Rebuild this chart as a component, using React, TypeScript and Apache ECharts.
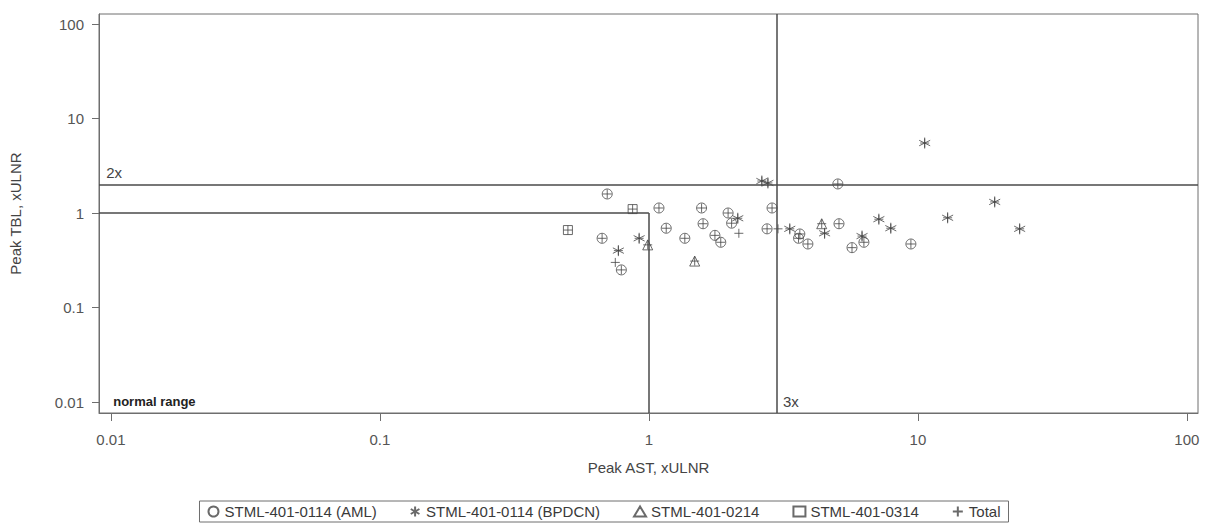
import React, { useEffect, useRef } from "react";
import * as echarts from "echarts";

// ---- data ----
const xTickValues = [0.01, 0.1, 1, 10, 100];
const xTickLabels = ["0.01", "0.1", "1", "10", "100"];
const yTickValues = [0.01, 0.1, 1, 10, 100];
const yTickLabels = ["0.01", "0.1", "1", "10", "100"];

const seriesNames = [
  "STML-401-0114 (AML)",
  "STML-401-0114 (BPDCN)",
  "STML-401-0214",
  "STML-401-0314",
  "Total",
];

// [Peak AST xULNR, Peak TBL xULNR]
const amlPoints = [
  [0.7, 1.59], [1.09, 1.13], [1.16, 0.69], [0.67, 0.54], [0.79, 0.25],
  [1.36, 0.54], [1.57, 1.13], [1.59, 0.77], [1.97, 1.0], [2.03, 0.78],
  [1.76, 0.58], [1.85, 0.49], [2.87, 1.13], [2.75, 0.68], [3.64, 0.6],
  [3.6, 0.54], [3.9, 0.47], [5.04, 2.03], [5.09, 0.77], [6.3, 0.49],
  [5.69, 0.43], [9.42, 0.47],
];
const bpdcnPoints = [
  [0.92, 0.54], [0.77, 0.4], [2.14, 0.88], [2.63, 2.18], [2.77, 2.08],
  [3.34, 0.68], [4.5, 0.61], [7.16, 0.86], [7.93, 0.69], [6.2, 0.57],
  [12.9, 0.89], [19.3, 1.31], [23.9, 0.68], [10.6, 5.5],
];
const p0214Points = [[0.99, 0.46], [1.48, 0.31], [4.39, 0.77]];
const p0314Points = [[0.5, 0.66], [0.87, 1.1]];
const totalOnlyPoints = [[0.75, 0.3], [2.16, 0.61], [3.02, 0.68]];

const refTBL = 2; // 2x
const refAST = 3; // 3x
const normalLimit = 1;

const xRange = [0.00903, 110];
const yRange = [0.00765, 127.6];

// ---- styles ----
const FONT = "'Liberation Sans', Arial, sans-serif";
const MARK = "#454545";
const FRAME = "#6e6e6e";
const REF = "#4a4a4a";

const starSymbol = "path://M5,0L5,10M0.67,2.5L9.33,7.5M0.67,7.5L9.33,2.5";
const plusSymbol = "path://M0,5L10,5M5,0L5,10";

const fmt = (ticks: number[], labels: string[]) => (v: number) => {
  const i = ticks.findIndex((t) => Math.abs(Math.log10(t) - Math.log10(v)) < 1e-6);
  return i >= 0 ? labels[i] : "";
};

const hollow = { color: "rgba(0,0,0,0)", borderColor: MARK, borderWidth: 1 };

export default function App() {
  const ref = useRef<HTMLDivElement>(null);
  useEffect(() => {
    if (!ref.current) return;
    const chart = echarts.init(ref.current, null, { renderer: "svg" });
    const totalPoints = [
      ...amlPoints,
      ...bpdcnPoints,
      ...p0214Points,
      ...p0314Points,
      ...totalOnlyPoints,
    ];
    const option: any = {
      animation: false,
      backgroundColor: "#ffffff",
      textStyle: { fontFamily: FONT },
      grid: {
        left: 98,
        right: 10,
        top: 14,
        bottom: 112,
        show: true,
        borderColor: FRAME,
        borderWidth: 1,
        containLabel: false,
      },
      legend: {
        data: seriesNames,
        left: "center",
        top: 501,
        borderColor: FRAME,
        borderWidth: 1,
        padding: [3, 8],
        itemGap: 33,
        itemWidth: 12,
        itemHeight: 10,
        textStyle: { fontFamily: FONT, fontSize: 15, color: "#3a3a3a" },
      },
      xAxis: {
        type: "log",
        logBase: 10,
        min: xRange[0],
        max: xRange[1],
        name: "Peak AST, xULNR",
        nameLocation: "middle",
        nameGap: 47,
        nameTextStyle: { fontFamily: FONT, fontSize: 15, color: "#444" },
        axisLine: { show: true, lineStyle: { color: FRAME, width: 1 } },
        axisTick: {
          show: true,
          length: 8,
          customValues: xTickValues,
          lineStyle: { color: FRAME },
        },
        axisLabel: {
          customValues: xTickValues,
          formatter: fmt(xTickValues, xTickLabels),
          margin: 19,
          fontFamily: FONT,
          fontSize: 15,
          color: "#555",
        },
        splitLine: { show: false },
        minorTick: { show: false },
      },
      yAxis: {
        type: "log",
        logBase: 10,
        min: yRange[0],
        max: yRange[1],
        name: "Peak TBL, xULNR",
        nameLocation: "middle",
        nameGap: 76,
        nameTextStyle: { fontFamily: FONT, fontSize: 15, color: "#444" },
        axisLine: { show: true, lineStyle: { color: FRAME, width: 1 } },
        axisTick: {
          show: true,
          length: 7,
          customValues: yTickValues,
          lineStyle: { color: FRAME },
        },
        axisLabel: {
          customValues: yTickValues,
          formatter: fmt(yTickValues, yTickLabels),
          margin: 15,
          fontFamily: FONT,
          fontSize: 15,
          color: "#555",
        },
        splitLine: { show: false },
        minorTick: { show: false },
      },
      series: [
        {
          name: "guides",
          type: "scatter",
          data: [],
          silent: true,
          markLine: {
            silent: true,
            symbol: ["none", "none"],
            label: { show: false },
            lineStyle: { color: REF, width: 1.5, type: "solid" },
            data: [
              { yAxis: refTBL },
              { xAxis: refAST },
              [{ coord: [xRange[0], normalLimit] }, { coord: [normalLimit, normalLimit] }],
              [{ coord: [normalLimit, normalLimit] }, { coord: [normalLimit, yRange[0]] }],
            ],
          },
          markPoint: {
            silent: true,
            symbol: "circle",
            symbolSize: 0,
            itemStyle: { color: "rgba(0,0,0,0)" },
            label: {
              show: true,
              position: "right",
              distance: 0,
              fontFamily: FONT,
              fontSize: 15,
              color: "#444",
            },
            data: [
              { coord: [0.0096, refTBL], label: { formatter: "2x", offset: [0, -12] } },
              { coord: [refAST * 1.05, 0.0102], label: { formatter: "3x" } },
              {
                coord: [0.0102, 0.0102],
                label: { formatter: "normal range", fontWeight: "bold", fontSize: 13, color: "#222" },
              },
            ],
          },
        },
        {
          name: seriesNames[0],
          type: "scatter",
          symbol: "circle",
          symbolSize: 10,
          itemStyle: hollow,
          data: amlPoints,
        },
        {
          name: seriesNames[1],
          type: "scatter",
          symbol: starSymbol,
          symbolSize: 11,
          itemStyle: hollow,
          data: bpdcnPoints,
        },
        {
          name: seriesNames[2],
          type: "scatter",
          symbol: "triangle",
          symbolSize: 10,
          itemStyle: hollow,
          data: p0214Points,
        },
        {
          name: seriesNames[3],
          type: "scatter",
          symbol: "rect",
          symbolSize: 9,
          itemStyle: hollow,
          data: p0314Points,
        },
        {
          name: seriesNames[4],
          type: "scatter",
          symbol: plusSymbol,
          symbolSize: 9,
          itemStyle: hollow,
          data: totalPoints,
        },
      ],
    };
    chart.setOption(option);
    return () => chart.dispose();
  }, []);
  return <div ref={ref} style={{ width: 1208, height: 525, position: "absolute", left: 0, top: 0 }} />;
}
